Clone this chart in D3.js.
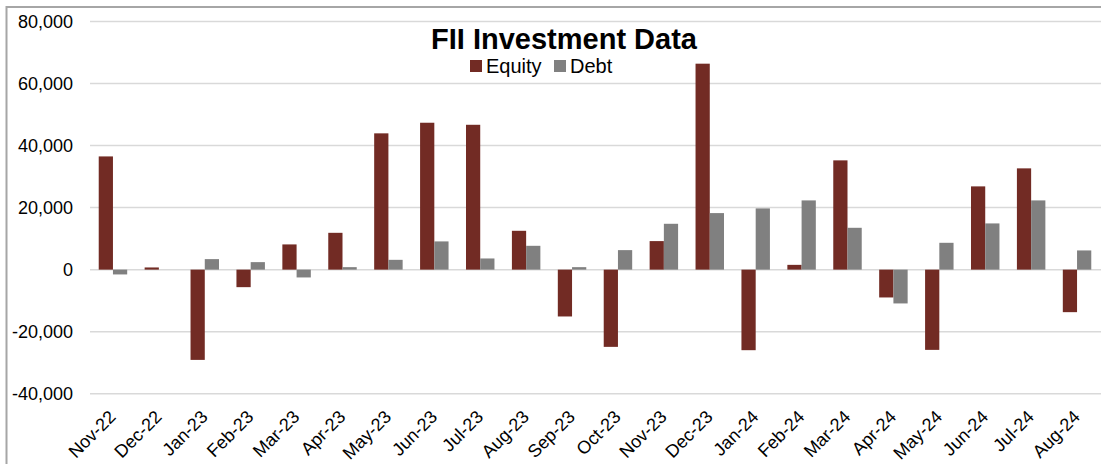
<!DOCTYPE html>
<html>
<head>
<meta charset="utf-8">
<script src="https://cdn.jsdelivr.net/npm/d3@7"></script>
<style>
  html, body { margin: 0; padding: 0; background: #fff; }
  svg { display: block; font-family: "Liberation Sans", Arial, sans-serif; }
</style>
</head>
<body>
<svg id="chart" width="1101" height="464"></svg>
<script>
const categories = ["Nov-22","Dec-22","Jan-23","Feb-23","Mar-23","Apr-23","May-23","Jun-23","Jul-23","Aug-23","Sep-23","Oct-23","Nov-23","Dec-23","Jan-24","Feb-24","Mar-24","Apr-24","May-24","Jun-24","Jul-24","Aug-24"];
const equity = [36500, 700, -29100, -5650, 8130, 11870, 43940, 47360, 46700, 12520, -15100, -24900, 9200, 66400, -25970, 1540, 35230, -8970, -25870, 26840, 32650, -13710];
const debt = [-1550, 0, 3390, 2420, -2520, 800, 3160, 9100, 3600, 7680, 800, 6290, 14780, 18230, 19740, 22320, 13490, -10900, 8650, 14900, 22320, 6190];
const seriesNames = ["Equity", "Debt"];
const yTicks = [-40000, -20000, 0, 20000, 40000, 60000, 80000];
const title = "FII Investment Data";

const colors = {Equity: "#722B24", Debt: "#808080"};
const svg = d3.select("#chart");

// outer frame
svg.append("rect").attr("x", 6.5).attr("y", 7).attr("width", 1200).attr("height", 600)
  .attr("fill", "none").attr("stroke", "#a6a6a6").attr("stroke-width", 2);

const plotLeft = 90, plotRight = 1100, plotTop = 21.5, plotBottom = 393.7;
const x0 = d3.scaleBand().domain(categories).range([plotLeft, plotRight]).paddingInner(0.38).paddingOuter(0.19);
const x1 = d3.scaleBand().domain(seriesNames).range([0, x0.bandwidth()]);
const y = d3.scaleLinear().domain([-40000, 80000]).range([plotBottom, plotTop]);

// gridlines
svg.append("g").selectAll("line").data(yTicks).join("line")
  .attr("x1", plotLeft).attr("x2", 1101)
  .attr("y1", d => y(d)).attr("y2", d => y(d))
  .attr("stroke", "#d9d9d9").attr("stroke-width", 1.5);

// y axis labels
const fmt = d3.format(",");
const yAxis = d3.axisLeft(y).tickValues(yTicks).tickFormat(d => fmt(d).replace("\u2212", "-")).tickSize(0).tickPadding(0);
const yg = svg.append("g").attr("transform", `translate(73,0)`).call(yAxis);
yg.select(".domain").remove();
yg.selectAll("text").attr("font-size", 18).attr("fill", "#000")
  .attr("font-family", "Liberation Sans, Arial, sans-serif");

// bars
const data = categories.map((c, i) => ({cat: c, vals: [{k: "Equity", v: equity[i]}, {k: "Debt", v: debt[i]}]}));
const groups = svg.append("g").selectAll("g").data(data).join("g")
  .attr("transform", d => `translate(${x0(d.cat)},0)`);
groups.selectAll("rect").data(d => d.vals).join("rect")
  .attr("x", d => x1(d.k))
  .attr("width", x1.bandwidth())
  .attr("y", d => y(Math.max(0, d.v)))
  .attr("height", d => Math.abs(y(d.v) - y(0)))
  .attr("fill", d => colors[d.k]);

// x labels
const xAxis = d3.axisBottom(x0).tickSize(0).tickPadding(0);
const xg = svg.append("g").attr("transform", `translate(0,418)`).call(xAxis);
xg.select(".domain").remove();
xg.selectAll("text")
  .attr("font-size", 18).attr("fill", "#000")
  .attr("font-family", "Liberation Sans, Arial, sans-serif")
  .attr("text-anchor", "end")
  .attr("dy", 0)
  .attr("y", 0).attr("x", 0)
  .attr("transform", "translate(4,0) rotate(-45)");

// title
svg.append("text").attr("x", 564).attr("y", 49).attr("text-anchor", "middle")
  .attr("font-size", 29).attr("font-weight", "bold").attr("fill", "#000").text(title);

// legend
const legendX = [470, 554];
const lg = svg.append("g").selectAll("g").data(seriesNames).join("g")
  .attr("transform", (d, i) => `translate(${legendX[i]},0)`);
lg.append("rect").attr("x", 0).attr("y", 60).attr("width", 12).attr("height", 12).attr("fill", d => colors[d]);
lg.append("text").attr("x", 16).attr("y", 73).attr("font-size", 20).attr("fill", "#000").text(d => d);
</script>
</body>
</html>
